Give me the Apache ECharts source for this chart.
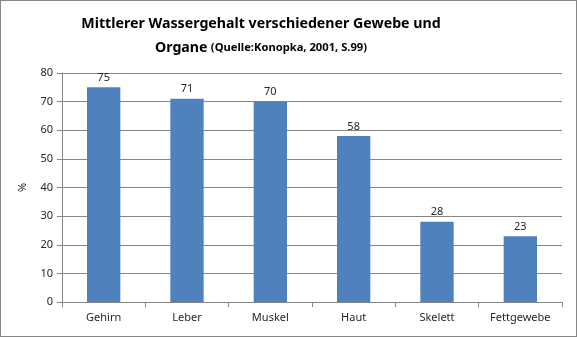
<!DOCTYPE html>
<html>
<head>
<meta charset="utf-8">
<script src="https://cdn.jsdelivr.net/npm/echarts@6/dist/echarts.min.js"></script>
<style>
html,body{margin:0;padding:0;background:#fff}
#wrap{position:relative;width:577px;height:337px}
#c{width:577px;height:337px}
#frame{position:absolute;left:0;top:0;width:577px;height:337px;box-sizing:border-box;border:1px solid #868686;pointer-events:none}
</style>
</head>
<body>
<div id="wrap"><div id="c"></div><div id="frame"></div></div>
<script>
const categories = ['Gehirn', 'Leber', 'Muskel', 'Haut', 'Skelett', 'Fettgewebe'];
const values = [75, 71, 70, 58, 28, 23];
const yTicks = { min: 0, max: 80, interval: 10 };

const chart = echarts.init(document.getElementById('c'), null, { renderer: 'canvas' });
const font = '"Noto Sans", "Open Sans", sans-serif';
chart.setOption({
  animation: false,
  backgroundColor: '#fff',
  graphic: [
    { type: 'text', x: 261, y: 24, style: { text: 'Mittlerer Wassergehalt verschiedener Gewebe und',
      font: 'bold 14.2px ' + font, fill: '#000', align: 'center', verticalAlign: 'middle' } },
    { type: 'text', x: 261, y: 48, style: { text: '{a|Organe} {b|(Quelle:Konopka, 2001, S.99)}',
      align: 'center', verticalAlign: 'middle',
      rich: { a: { fontFamily: font, fontWeight: 'bold', fontSize: 14.2, fill: '#000', color: '#000' },
              b: { fontFamily: font, fontWeight: 'bold', fontSize: 11.2, fill: '#000', color: '#000' } } } }
  ],
  grid: { left: 62, right: 15, top: 73, bottom: 35, containLabel: false },
  xAxis: {
    type: 'category', data: categories,
    axisLine: { lineStyle: { color: '#868686' } },
    axisTick: { show: true, length: 5, lineStyle: { color: '#868686' } },
    axisLabel: { color: '#262626', fontSize: 11, fontFamily: font, margin: 10 }
  },
  yAxis: {
    type: 'value', min: yTicks.min, max: yTicks.max, interval: yTicks.interval,
    name: '%', nameLocation: 'middle', nameGap: 34, nameRotate: 90,
    nameTextStyle: { color: '#262626', fontSize: 11, fontFamily: font },
    axisLine: { show: true, lineStyle: { color: '#868686' } },
    axisTick: { show: true, length: 5, lineStyle: { color: '#868686' } },
    axisLabel: { color: '#262626', fontSize: 11, fontFamily: font, margin: 9 },
    splitLine: { lineStyle: { color: '#868686' } }
  },
  series: [{
    type: 'bar', data: values, barWidth: '40%',
    itemStyle: { color: '#4F81BD' },
    label: { show: true, position: 'top', distance: 4, color: '#262626', fontSize: 11, fontFamily: font }
  }]
});
</script>
</body>
</html>
